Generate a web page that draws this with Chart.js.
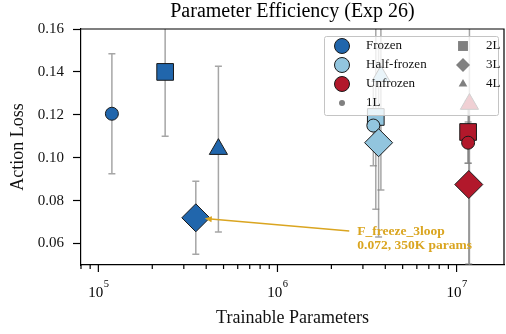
<!DOCTYPE html>
<html>
<head>
<meta charset="utf-8">
<script src="https://cdn.jsdelivr.net/npm/chart.js@4.4.0/dist/chart.umd.min.js"></script>
<style>
  html, body { margin: 0; padding: 0; background: #fff; }
  #wrap { width: 506px; height: 334px; }
</style>
</head>
<body>
<div id="wrap"><canvas id="chart"></canvas></div>
<script>
const layers = ["1L", "2L", "3L", "4L"];
const layerShapes = ["circle", "rect", "rectRot", "triangle"];
const layerRadius = [6.5, 11.8, 14, 10.5];
const groups = ["Frozen", "Half-frozen", "Unfrozen"];
const groupColors = ["#2166ac", "#92c5de", "#b2182b"];

// values per layer (1L, 2L, 3L, 4L)
const frozenParams = [1.19e5, 2.36e5, 3.5e5, 4.68e5];
const frozenLoss = [0.1205, 0.14, 0.072, 0.104];
const frozenErr = [0.028, 0.03, 0.017, 0.0386];

const halfParams = [3.43e6, 3.54e6, 3.67e6, 3.78e6];
const halfLoss = [0.115, 0.119, 0.107, 0.138];
const halfErr = [0.0187, 0.043, 0.044, 0.053];

const unfrozenParams = [1.16e7, 1.16e7, 1.17e7, 1.18e7];
const unfrozenLoss = [0.107, 0.112, 0.0875, 0.125];
const unfrozenErr = [0.0096, 0.0146, 0.037, 0.08];

const yTicks = [0.06, 0.08, 0.1, 0.12, 0.14, 0.16];
const xMajorTicks = [1e5, 1e6, 1e7];
const xTickLabels = ["5", "6", "7"]; // exponents of 10

const annotText = ["F_freeze_3loop", "0.072, 350K params"];
const annotTarget = { x: 3.5e5, y: 0.072 };
const annotAt = { x: 2.79e6, y: 0.0658 };

// square, circle, diamond, triangle (drawing order in the reference)
const drawOrder = [1, 0, 2, 3];

const serif = "'Liberation Serif', 'DejaVu Serif', serif";
const gold = "#DAA520";

function makeDataset(label, color, xs, ys, errs) {
  return {
    label: label,
    data: drawOrder.map((i) => ({ x: xs[i], y: ys[i], err: errs[i] })),
    pointStyle: drawOrder.map((i) => layerShapes[i]),
    pointRadius: drawOrder.map((i) => layerRadius[i]),
    pointHoverRadius: drawOrder.map((i) => layerRadius[i]),
    backgroundColor: color,
    borderColor: "#1a1a1a",
    pointBorderWidth: 1,
    showLine: false,
  };
}

const datasets = [
  makeDataset(groups[0], groupColors[0], frozenParams, frozenLoss, frozenErr),
  makeDataset(groups[1], groupColors[1], halfParams, halfLoss, halfErr),
  makeDataset(groups[2], groupColors[2], unfrozenParams, unfrozenLoss, unfrozenErr),
];

function drawMarker(ctx, style, r, x, y, fill, stroke) {
  ctx.save();
  ctx.fillStyle = fill;
  ctx.strokeStyle = stroke || fill;
  ctx.lineWidth = 1;
  Chart.helpers.drawPoint(ctx, { pointStyle: style, radius: r, rotation: 0, borderWidth: stroke ? 1 : 0 }, x, y);
  ctx.restore();
}

const decor = {
  id: "decor",
  beforeDatasetsDraw(chart) {
    const { ctx, chartArea, scales } = chart;
    ctx.save();
    ctx.beginPath();
    ctx.rect(chartArea.left, chartArea.top, chartArea.right - chartArea.left, chartArea.bottom - chartArea.top);
    ctx.clip();
    ctx.strokeStyle = "rgba(128,128,128,0.7)";
    ctx.lineWidth = 1.5;
    chart.data.datasets.forEach((ds) => {
      ds.data.forEach((p) => {
        const x = scales.x.getPixelForValue(p.x);
        const y1 = scales.y.getPixelForValue(p.y + p.err);
        const y2 = scales.y.getPixelForValue(p.y - p.err);
        ctx.beginPath();
        ctx.moveTo(x, y1);
        ctx.lineTo(x, y2);
        ctx.moveTo(x - 3.5, y1);
        ctx.lineTo(x + 3.5, y1);
        ctx.moveTo(x - 3.5, y2);
        ctx.lineTo(x + 3.5, y2);
        ctx.stroke();
      });
    });
    ctx.restore();
  },
  afterDraw(chart) {
    const { ctx, chartArea, scales } = chart;
    const xs = scales.x;
    ctx.save();

    // top and right spines
    ctx.strokeStyle = "#000";
    ctx.lineWidth = 1.2;
    ctx.beginPath();
    ctx.moveTo(chartArea.left, chartArea.top);
    ctx.lineTo(chartArea.right, chartArea.top);
    ctx.lineTo(chartArea.right, chartArea.bottom);
    ctx.stroke();

    // x ticks (major + minor)
    xs.ticks.forEach((t) => {
      const px = xs.getPixelForValue(t.value);
      const len = t.major ? 7 : 4;
      ctx.beginPath();
      ctx.moveTo(px, chartArea.bottom);
      ctx.lineTo(px, chartArea.bottom + len);
      ctx.stroke();
    });

    // x tick labels 10^k
    ctx.fillStyle = "#000";
    ctx.textBaseline = "alphabetic";
    xMajorTicks.forEach((v, i) => {
      const px = xs.getPixelForValue(v);
      ctx.font = "15px " + serif;
      const wb = ctx.measureText("10").width;
      ctx.font = "10.5px " + serif;
      const we = ctx.measureText(xTickLabels[i]).width;
      const left = px - (wb + we) / 2;
      ctx.font = "15px " + serif;
      ctx.textAlign = "left";
      ctx.fillText("10", left, 297);
      ctx.font = "10.5px " + serif;
      ctx.fillText(xTickLabels[i], left + wb + 0.5, 287);
    });

    // title
    ctx.font = "20px " + serif;
    ctx.textAlign = "center";
    ctx.textBaseline = "middle";
    ctx.fillText("Parameter Efficiency (Exp 26)", (chartArea.left + chartArea.right) / 2, 12);

    // annotation
    const tx = xs.getPixelForValue(annotAt.x);
    const ty = scales.y.getPixelForValue(annotAt.y);
    const px = xs.getPixelForValue(annotTarget.x);
    const py = scales.y.getPixelForValue(annotTarget.y);
    const sx = tx - 8, sy = ty;
    const d = Math.hypot(sx - px, sy - py);
    const ux = (sx - px) / d, uy = (sy - py) / d;
    const hx = px + ux * 9, hy = py + uy * 9;
    ctx.strokeStyle = gold;
    ctx.fillStyle = gold;
    ctx.lineWidth = 1.5;
    ctx.beginPath();
    ctx.moveTo(sx, sy);
    ctx.lineTo(hx + ux * 6, hy + uy * 6);
    ctx.stroke();
    ctx.beginPath();
    ctx.moveTo(hx, hy);
    ctx.lineTo(hx + ux * 7 - uy * 3, hy + uy * 7 + ux * 3);
    ctx.lineTo(hx + ux * 7 + uy * 3, hy + uy * 7 - ux * 3);
    ctx.closePath();
    ctx.fill();
    ctx.font = "bold 13.5px " + serif;
    ctx.textAlign = "left";
    ctx.textBaseline = "middle";
    annotText.forEach((s, i) => ctx.fillText(s, tx, ty + i * 14));

    // legend
    const lx = 324, ly = 36, lw = 174, lh = 79;
    ctx.fillStyle = "rgba(255,255,255,0.8)";
    ctx.strokeStyle = "#c4c4c4";
    ctx.lineWidth = 1;
    ctx.beginPath();
    ctx.roundRect(lx + 0.5, ly + 0.5, lw, lh, 2);
    ctx.fill();
    ctx.stroke();
    const rowY = [46, 65, 84, 103];
    ctx.font = "13px " + serif;
    ctx.textAlign = "left";
    ctx.textBaseline = "middle";
    groups.forEach((g, i) => {
      drawMarker(ctx, "circle", 7.5, 342, rowY[i], groupColors[i], "#1a1a1a");
      ctx.fillStyle = "#111";
      ctx.fillText(g, 366, rowY[i]);
    });
    const legendRadius = [3, 7, 7, 5];
    drawMarker(ctx, layerShapes[0], legendRadius[0], 342, rowY[3], "#808080");
    ctx.fillStyle = "#111";
    ctx.fillText(layers[0], 366, rowY[3]);
    for (let i = 1; i < 4; i++) {
      drawMarker(ctx, layerShapes[i], legendRadius[i], 463, rowY[i - 1], "#808080");
      ctx.fillStyle = "#111";
      ctx.fillText(layers[i], 486, rowY[i - 1]);
    }
    ctx.restore();
  },
};

new Chart(document.getElementById("chart").getContext("2d"), {
  type: "scatter",
  data: { datasets: datasets },
  options: {
    responsive: true,
    maintainAspectRatio: false,
    animation: false,
    layout: { autoPadding: false, padding: { top: 29, right: 2, left: 0, bottom: 0 } },
    plugins: {
      legend: { display: false },
      title: { display: false },
      tooltip: { enabled: false },
    },
    scales: {
      x: {
        type: "logarithmic",
        min: 8.0e4,
        max: 1.84e7,
        afterBuildTicks: (axis) => {
          const ticks = [];
          for (let k = 4; k <= 7; k++) {
            for (let m = 1; m <= 9; m++) {
              const v = m * Math.pow(10, k);
              if (v >= axis.min && v <= axis.max) ticks.push({ value: v, major: m === 1 });
            }
          }
          axis.ticks = ticks;
        },
        afterFit: (scale) => { scale.height = 69; },
        grid: { display: false },
        border: { display: true, color: "#000", width: 1.2 },
        ticks: { display: false },
        title: {
          display: true,
          text: "Trainable Parameters",
          color: "#111",
          font: { family: serif, size: 18 },
          padding: { top: 0, bottom: 5 },
        },
      },
      y: {
        type: "linear",
        min: 0.05,
        max: 0.16,
        afterBuildTicks: (axis) => {
          axis.ticks = yTicks.map((v) => ({ value: v }));
        },
        afterFit: (scale) => { scale.width = 81; },
        grid: {
          display: true,
          drawOnChartArea: false,
          drawTicks: true,
          tickLength: 8,
          tickColor: "#000",
          tickWidth: 1.2,
        },
        border: { display: true, color: "#000", width: 1.2 },
        ticks: {
          color: "#111",
          padding: 9,
          font: { family: serif, size: 15 },
          callback: (v) => Number(v).toFixed(2),
        },
        title: {
          display: true,
          text: "Action Loss",
          color: "#111",
          font: { family: serif, size: 18 },
          padding: { top: 7, bottom: 0 },
        },
      },
    },
  },
  plugins: [decor],
});
</script>
</body>
</html>
